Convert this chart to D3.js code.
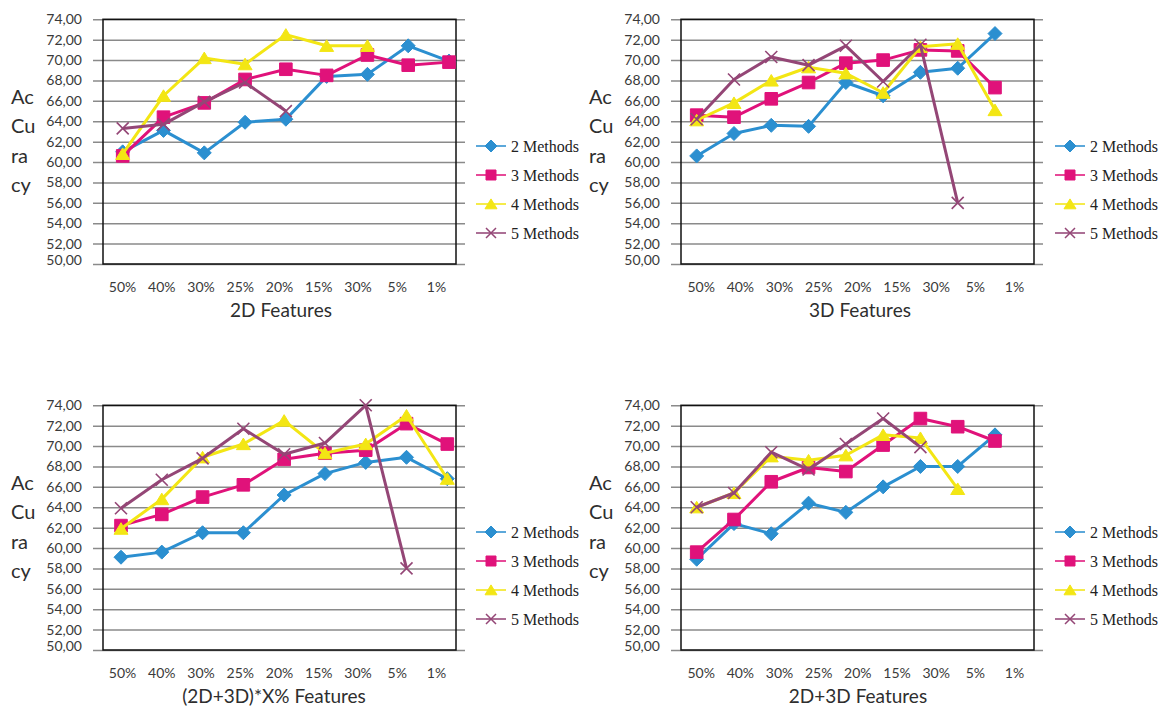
<!DOCTYPE html>
<html>
<head>
<meta charset="utf-8">
<script src="https://cdn.jsdelivr.net/npm/d3@7"></script>
<style>
  body { margin: 0; background: #fff; }
  svg { display: block; }
  .tick text { font-family: Lato, "Open Sans", sans-serif; font-size: 14px; fill: #3a3a3a; }
</style>
</head>
<body>
<svg id="chart" width="1159" height="706"></svg>
<script>
var categories = ["50%", "40%", "30%", "25%", "20%", "15%", "30%", "5%", "1%"];
var seriesNames = ["2 Methods", "3 Methods", "4 Methods", "5 Methods"];
var seriesColors = ["#2b8fd0", "#e0127a", "#f3e614", "#944676"];
var yTicks = [50, 52, 54, 56, 58, 60, 62, 64, 66, 68, 70, 72, 74];
var yLabelParts = ["Ac", "Cu", "ra", "cy"];
var panelTitles = ["2D Features", "3D Features", "(2D+3D)*X% Features", "2D+3D Features"];

// 2D features
var f2d_m2 = [61.0, 63.1, 60.9, 63.9, 64.2, 68.4, 68.6, 71.4, 69.9];
var f2d_m3 = [60.6, 64.4, 65.8, 68.1, 69.1, 68.5, 70.5, 69.5, 69.8];
var f2d_m4 = [60.8, 66.5, 70.2, 69.6, 72.5, 71.4, 71.4, null, null];
var f2d_m5 = [63.3, 63.7, 65.9, 67.8, 65.0, null, null, null, null];

// 3D features
var f3d_m2 = [60.6, 62.8, 63.6, 63.5, 67.8, 66.5, 68.8, 69.2, 72.6];
var f3d_m3 = [64.6, 64.4, 66.2, 67.8, 69.7, 70.0, 71.0, 70.9, 67.3];
var f3d_m4 = [64.1, 65.8, 68.0, 69.3, 68.7, 66.8, 71.3, 71.6, 65.1];
var f3d_m5 = [64.2, 68.1, 70.3, 69.5, 71.4, 67.9, 71.5, 56.0, null];

// (2D+3D)*X% features
var fx_m2 = [59.1, 59.6, 61.5, 61.5, 65.2, 67.3, 68.4, 68.9, 66.8];
var fx_m3 = [62.2, 63.3, 65.0, 66.2, 68.7, 69.3, 69.6, 72.2, 70.2];
var fx_m4 = [61.9, 64.8, 68.9, 70.2, 72.5, 69.3, 70.2, 73.0, 66.8];
var fx_m5 = [63.9, 66.7, 68.8, 71.7, 69.2, 70.3, 74.0, 58.0, null];

// 2D+3D features
var fc_m2 = [58.9, 62.4, 61.4, 64.4, 63.5, 66.0, 68.0, 68.0, 71.1];
var fc_m3 = [59.6, 62.8, 66.5, 67.9, 67.5, 70.1, 72.7, 71.9, 70.5];
var fc_m4 = [64.0, 65.4, 69.0, 68.6, 69.1, 71.1, 70.8, 65.8, null];
var fc_m5 = [64.0, 65.4, 69.4, 67.7, 70.2, 72.7, 69.9, null, null];

var panelSeries = [
  [f2d_m2, f2d_m3, f2d_m4, f2d_m5],
  [f3d_m2, f3d_m3, f3d_m4, f3d_m5],
  [fx_m2, fx_m3, fx_m4, fx_m5],
  [fc_m2, fc_m3, fc_m4, fc_m5]
];

// layout of each panel (scanned figure: points and labels are not quite aligned)
var panels = [
  {dy: 0,   left: 103, right: 456,  data: [122.7, 449], labels: [122, 436],    yLab: 11,  legend: 476,  titleX: 281},
  {dy: 0,   left: 681, right: 1034, data: [696.7, 995], labels: [700.7, 1014], yLab: 589, legend: 1055, titleX: 860},
  {dy: 386, left: 103, right: 456,  data: [121, 447.3], labels: [122, 436],    yLab: 11,  legend: 476,  titleX: 274},
  {dy: 386, left: 681, right: 1034, data: [696.7, 995], labels: [700.7, 1014], yLab: 589, legend: 1055, titleX: 858}
];

var svg = d3.select("#chart");
var fmt = function(d) { return d.toFixed(2).replace(".", ","); };

// marker shapes, r = half size
function markerPath(k, r) {
  if (k == 0) return "M0," + (-r) + "L" + r + ",0L0," + r + "L" + (-r) + ",0Z";
  if (k == 1) return "M" + (-r) + "," + (-r) + "H" + r + "V" + r + "H" + (-r) + "Z";
  if (k == 2) return "M0," + (-r * 0.85) + "L" + r + "," + (r * 0.8) + "L" + (-r) + "," + (r * 0.8) + "Z";
  return "M" + (-r) + "," + (-r) + "L" + r + "," + r + "M" + (-r) + "," + r + "L" + r + "," + (-r);
}

panels.forEach(function(p, pi) {
  var top = 19.3 + p.dy, bottom = 264 + p.dy;
  var g = svg.append("g");

  var y = d3.scaleLinear().domain([50, 74]).range([bottom, top]);
  var x = d3.scaleLinear().domain([0, categories.length - 1]).range(p.data);
  var xl = d3.scaleLinear().domain([0, categories.length - 1]).range(p.labels);

  // gridlines + y tick labels
  var yAxis = g.append("g")
    .attr("transform", "translate(" + (p.left - 10) + ",0)")
    .call(d3.axisLeft(y).tickValues(yTicks).tickFormat(fmt)
      .tickSize(-(p.right - p.left + 19)).tickPadding(11));
  yAxis.select(".domain").remove();
  yAxis.selectAll(".tick line").attr("stroke", "#8a8a8a").attr("stroke-width", 1.5);
  yAxis.selectAll(".tick").filter(function(d) { return d == 50; })
    .select("text").attr("y", -4);

  // plot box
  g.append("rect")
    .attr("x", p.left).attr("y", top)
    .attr("width", p.right - p.left).attr("height", bottom - top)
    .attr("fill", "none").attr("stroke", "#111").attr("stroke-width", 1.5);

  // x labels
  var xAxis = g.append("g")
    .attr("transform", "translate(0," + (292 + p.dy) + ")")
    .call(d3.axisBottom(xl).tickValues(d3.range(categories.length))
      .tickFormat(function(i) { return categories[i]; }).tickSize(0));
  xAxis.select(".domain").remove();
  xAxis.selectAll("text").attr("y", 0).attr("dy", null);

  // axis title
  g.append("text")
    .attr("x", p.titleX).attr("y", 317 + p.dy)
    .attr("text-anchor", "middle")
    .style("font-family", "Lato, 'Open Sans', sans-serif")
    .style("font-size", "19px").style("fill", "#2e2e2e")
    .text(panelTitles[pi]);

  // stacked "Accuracy" label
  g.selectAll(".ylab").data(yLabelParts).enter().append("text")
    .attr("x", p.yLab)
    .attr("y", function(d, i) { return 103.5 + p.dy + i * 29.5; })
    .style("font-family", "Lato, 'Open Sans', sans-serif")
    .style("font-size", "20px").style("fill", "#2e2e2e")
    .text(function(d) { return d; });

  // series
  var line = d3.line()
    .defined(function(d) { return d != null; })
    .x(function(d, i) { return x(i); })
    .y(function(d) { return y(d); });

  panelSeries[pi].forEach(function(vals, k) {
    var col = seriesColors[k];
    g.append("path").datum(vals)
      .attr("d", line).attr("fill", "none")
      .attr("stroke", col).attr("stroke-width", 3)
      .attr("stroke-linejoin", "round");
    var pts = vals.map(function(v, i) { return {v: v, i: i}; })
      .filter(function(d) { return d.v != null; });
    var r = [7, 6.3, 7, 6][k];
    g.selectAll(".m" + k).data(pts).enter().append("path")
      .attr("transform", function(d) { return "translate(" + x(d.i) + "," + y(d.v) + ")"; })
      .attr("d", markerPath(k, r))
      .attr("fill", k == 3 ? "none" : col)
      .attr("stroke", col)
      .attr("stroke-width", k == 3 ? 1.6 : 1);
  });

  // legend
  var lg = g.append("g");
  seriesNames.forEach(function(name, k) {
    var ly = 146 + p.dy + k * 29;
    var col = seriesColors[k];
    lg.append("line")
      .attr("x1", p.legend).attr("x2", p.legend + 30)
      .attr("y1", ly).attr("y2", ly)
      .attr("stroke", col).attr("stroke-width", 1.8).attr("opacity", 0.85);
    lg.append("path")
      .attr("transform", "translate(" + (p.legend + 15) + "," + ly + ")")
      .attr("d", markerPath(k, [6, 5, 6, 5][k]))
      .attr("fill", k == 3 ? "none" : col)
      .attr("stroke", col).attr("stroke-width", k == 3 ? 1.5 : 1);
    lg.append("text")
      .attr("x", p.legend + 35).attr("y", ly + 5.5)
      .style("font-family", "'Liberation Serif', 'Times New Roman', serif")
      .style("font-size", "16px").style("fill", "#222")
      .text(name);
  });
});
</script>
</body>
</html>
